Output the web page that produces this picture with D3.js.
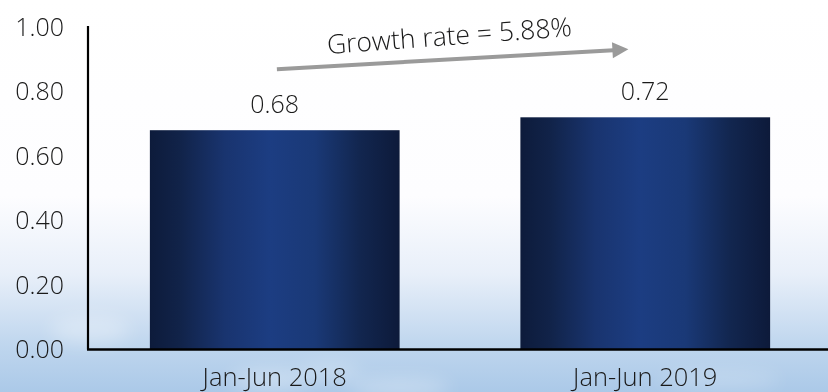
<!DOCTYPE html>
<html>
<head>
<meta charset="utf-8">
<script src="https://cdn.jsdelivr.net/npm/d3@7"></script>
<style>
  html, body { margin: 0; padding: 0; background: #fff; }
  svg { display: block; }
  text { font-family: "Open Sans", "Noto Sans", sans-serif; font-weight: 300; fill: #1a1a1a; }
</style>
</head>
<body>
<svg id="chart" width="828" height="392"></svg>
<script>
// Output per half-year period
const categories = ["Jan-Jun 2018", "Jan-Jun 2019"];
const values = [0.68, 0.72];
const yTicks = [0, 0.2, 0.4, 0.6, 0.8, 1.0];
const growthLabel = "Growth rate = 5.88%";

const W = 828, H = 392;
const FONT = "\"Open Sans\", \"Noto Sans\", sans-serif";
const svg = d3.select("#chart");
const defs = svg.append("defs");

// Sky backdrop: white at the top fading to pale blue
const sky = defs.append("linearGradient").attr("id", "sky")
  .attr("x1", 0).attr("y1", 0).attr("x2", 0).attr("y2", 1);
sky.append("stop").attr("offset", "0%").attr("stop-color", "#ffffff");
sky.append("stop").attr("offset", "50%").attr("stop-color", "#fdfdff");
sky.append("stop").attr("offset", "70%").attr("stop-color", "#e8eff9");
sky.append("stop").attr("offset", "88%").attr("stop-color", "#bfd6ee");
sky.append("stop").attr("offset", "100%").attr("stop-color", "#abc9e8");

// Bar fill: dark navy edges, brighter blue centre
const barGrad = defs.append("linearGradient").attr("id", "barGrad")
  .attr("x1", 0).attr("y1", 0).attr("x2", 1).attr("y2", 0);
[["0%", "#0d1b3b"], ["12%", "#112349"], ["30%", "#19346f"], ["48%", "#1c3d82"],
 ["66%", "#1a3977"], ["84%", "#12264f"], ["100%", "#0d1a3a"]]
  .forEach(([o, c]) => barGrad.append("stop").attr("offset", o).attr("stop-color", c));

const cloudBlur = defs.append("filter").attr("id", "cloudBlur")
  .attr("x", "-50%").attr("y", "-50%").attr("width", "200%").attr("height", "200%");
cloudBlur.append("feGaussianBlur").attr("stdDeviation", 9);

svg.append("rect").attr("width", W).attr("height", H).attr("fill", "url(#sky)");

// soft clouds low in the sky
const clouds = svg.append("g").attr("filter", "url(#cloudBlur)").attr("fill", "#ffffff");
[[270, 380, 40, 10, 0.35], [330, 372, 30, 8, 0.3], [400, 388, 50, 10, 0.3],
 [265, 285, 25, 12, 0.25], [90, 330, 40, 14, 0.3], [720, 380, 60, 10, 0.2]]
  .forEach(([cx, cy, rx, ry, op]) =>
    clouds.append("ellipse").attr("cx", cx).attr("cy", cy)
      .attr("rx", rx).attr("ry", ry).attr("opacity", op));

const margin = { left: 88, top: 27, bottom: 43 };
const y = d3.scaleLinear().domain([0, 1]).range([H - margin.bottom + 0.5, margin.top]);
const x = d3.scaleBand().domain(categories).range([margin.left, 832])
  .paddingInner(0.326).paddingOuter(0.167);

// bars
svg.append("g").selectAll("rect").data(values).join("rect")
  .attr("x", (d, i) => x(categories[i]))
  .attr("width", x.bandwidth())
  .attr("y", d => y(d))
  .attr("height", d => y(0) - y(d))
  .attr("fill", "url(#barGrad)");

// value labels
svg.append("g").selectAll("text").data(values).join("text")
  .attr("x", (d, i) => x(categories[i]) + x.bandwidth() / 2)
  .attr("y", d => y(d) - 17)
  .attr("text-anchor", "middle")
  .attr("font-size", 25)
  .text(d => d3.format(".2f")(d));

// y axis
const yAxis = d3.axisLeft(y).tickValues(yTicks).tickFormat(d3.format(".2f"))
  .tickSize(0).tickPadding(24);
const gy = svg.append("g").attr("transform", `translate(${margin.left},0)`).call(yAxis);
gy.select(".domain").attr("stroke", "#000").attr("stroke-width", 2.2)
  .attr("d", `M0,${margin.top - 1}V${y(0)}`);
gy.selectAll("text").attr("font-size", 25).attr("fill", "#1a1a1a")
  .attr("font-family", FONT).attr("font-weight", 300);

// x axis
const xAxis = d3.axisBottom(x).tickSize(0).tickPadding(18);
const gx = svg.append("g").attr("transform", `translate(0,${y(0)})`).call(xAxis);
gx.select(".domain").attr("stroke", "#000").attr("stroke-width", 2.5)
  .attr("d", `M${margin.left - 1},0H${W}`);
gx.selectAll("text").attr("font-size", 25.5).attr("fill", "#1a1a1a")
  .attr("font-family", FONT).attr("font-weight", 300);

// growth arrow between the two periods
const a0 = [x(categories[0]) + 127, y(values[0]) - 61];
const a1 = [x(categories[1]) + 108, y(values[1]) - 68];
const ang = Math.atan2(a1[1] - a0[1], a1[0] - a0[0]);
const headLen = 16, headHalf = 8;
const base = [a1[0] - headLen * Math.cos(ang), a1[1] - headLen * Math.sin(ang)];
svg.append("line")
  .attr("x1", a0[0]).attr("y1", a0[1]).attr("x2", base[0] + 1).attr("y2", base[1])
  .attr("stroke", "#9a9a9a").attr("stroke-width", 4);
svg.append("path")
  .attr("d", d3.line()([
    a1,
    [base[0] - headHalf * Math.sin(ang), base[1] + headHalf * Math.cos(ang)],
    [base[0] + headHalf * Math.sin(ang), base[1] - headHalf * Math.cos(ang)]
  ]) + "Z")
  .attr("fill", "#9a9a9a");

svg.append("text")
  .attr("transform", "translate(450,45) rotate(-4.2)")
  .attr("text-anchor", "middle")
  .attr("font-size", 26.5)
  .text(growthLabel);
</script>
</body>
</html>
